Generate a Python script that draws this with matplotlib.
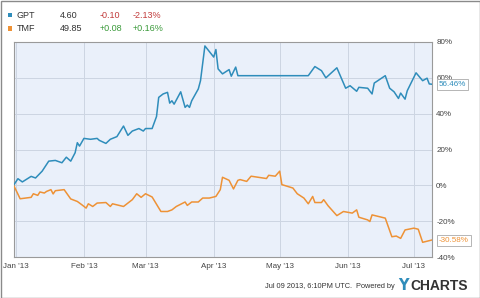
import matplotlib
matplotlib.use("Agg")
import matplotlib.pyplot as plt
import matplotlib.dates as mdates
import pandas as pd
from matplotlib.patches import Rectangle

plt.rcParams['font.family'] = ['Liberation Sans', 'DejaVu Sans']

# ---- data ----
gpt_dates = ["2012-12-31", "2013-01-02", "2013-01-04", "2013-01-08", "2013-01-10", "2013-01-13",
             "2013-01-16", "2013-01-19", "2013-01-22", "2013-01-24", "2013-01-26", "2013-01-28",
             "2013-01-29", "2013-01-30", "2013-02-01", "2013-02-04", "2013-02-07", "2013-02-08",
             "2013-02-11", "2013-02-13", "2013-02-16", "2013-02-19", "2013-02-21", "2013-02-23",
             "2013-02-26", "2013-02-28", "2013-03-01", "2013-03-04", "2013-03-06", "2013-03-07",
             "2013-03-09", "2013-03-11", "2013-03-12", "2013-03-13", "2013-03-14", "2013-03-17",
             "2013-03-19", "2013-03-20", "2013-03-21", "2013-03-22", "2013-03-25", "2013-03-26",
             "2013-03-28", "2013-04-01", "2013-04-02", "2013-04-03", "2013-04-05", "2013-04-08",
             "2013-04-09", "2013-04-11", "2013-04-12", "2013-05-14", "2013-05-17", "2013-05-20",
             "2013-05-22", "2013-05-27", "2013-05-31", "2013-06-02", "2013-06-05", "2013-06-06",
             "2013-06-10", "2013-06-12", "2013-06-13", "2013-06-14", "2013-06-18", "2013-06-20",
             "2013-06-22", "2013-06-24", "2013-06-25", "2013-06-27", "2013-06-28", "2013-07-02",
             "2013-07-05", "2013-07-07", "2013-07-08", "2013-07-09"]
gpt_values = [0, 3.7, 1.9, 5.0, 4.1, 7.9,
              13.5, 13.9, 12.6, 15.7, 13.5, 18.2,
              23.8, 21.9, 26.2, 25.7, 26.2, 25.1,
              23.4, 25.7, 27.2, 33.1, 27.9, 30.3,
              31.7, 30.3, 31.7, 31.7, 38.4, 49.1,
              51.0, 51.9, 45.9, 47.2, 45.3, 52.2,
              43.5, 44.8, 43.5, 47.2, 53.8, 58.4,
              77.8, 71.6, 75.8, 65.0, 62.2, 64.6,
              60.9, 66.0, 61.2, 61.2, 66.3, 64.0,
              60.0, 65.6, 54.2, 55.6, 52.5, 54.7,
              54.2, 51.0, 57.1, 57.9, 61.2, 54.2,
              52.2, 48.5, 51.5, 48.1, 52.8, 62.8,
              58.4, 59.8, 56.6, 56.46]

tmf_dates = ["2012-12-31", "2013-01-01", "2013-01-03", "2013-01-08", "2013-01-09", "2013-01-11",
             "2013-01-12", "2013-01-14", "2013-01-15", "2013-01-17", "2013-01-18", "2013-01-19",
             "2013-01-23", "2013-01-26", "2013-01-29", "2013-01-31", "2013-02-02", "2013-02-03",
             "2013-02-05", "2013-02-07", "2013-02-11", "2013-02-13", "2013-02-14", "2013-02-19",
             "2013-02-23", "2013-02-25", "2013-02-27", "2013-03-01", "2013-03-04", "2013-03-08",
             "2013-03-11", "2013-03-13", "2013-03-15", "2013-03-19", "2013-03-20", "2013-03-22",
             "2013-03-25", "2013-03-27", "2013-03-30", "2013-04-02", "2013-04-04", "2013-04-05",
             "2013-04-08", "2013-04-10", "2013-04-12", "2013-04-13", "2013-04-16", "2013-04-18",
             "2013-04-25", "2013-04-26", "2013-04-29", "2013-05-01", "2013-05-02", "2013-05-07",
             "2013-05-09", "2013-05-12", "2013-05-14", "2013-05-16", "2013-05-17", "2013-05-20",
             "2013-05-21", "2013-05-23", "2013-05-27", "2013-05-30", "2013-06-03", "2013-06-05",
             "2013-06-06", "2013-06-10", "2013-06-11", "2013-06-12", "2013-06-15", "2013-06-18",
             "2013-06-21", "2013-06-23", "2013-06-25", "2013-06-27", "2013-07-01", "2013-07-03",
             "2013-07-05", "2013-07-09"]
tmf_values = [0, -2.4, -7.5, -6.7, -4.7, -5.6,
              -3.7, -4.3, -3.4, -2.4, -4.8, -3.0,
              -2.4, -7.6, -9.0, -10.8, -12.7, -10.3,
              -11.8, -9.9, -9.6, -11.8, -10.3, -11.8,
              -8.0, -4.7, -6.7, -4.7, -6.5, -14.6,
              -14.6, -13.7, -11.8, -9.3, -11.2, -9.3,
              -9.3, -7.1, -7.1, -6.2, -2.4, 4.5,
              2.8, -2.0, 2.8, 3.2, 2.2, 5.1,
              3.8, 5.6, 5.1, 7.9, 0.4, -1.5,
              -4.7, -7.1, -10.3, -6.2, -9.6, -9.6,
              -8.0, -11.4, -16.9, -14.6, -15.5, -13.7,
              -17.8, -19.3, -20.2, -16.5, -17.4, -18.3,
              -28.7, -28.3, -29.6, -24.9, -23.9, -24.5,
              -31.8, -30.58]

yticks = [-40, -20, 0, 20, 40, 60, 80]
month_ticks = ["2013-01-01", "2013-02-01", "2013-03-01", "2013-04-01", "2013-05-01", "2013-06-01", "2013-07-01"]
month_labels = ["Jan '13", "Feb '13", "Mar '13", "Apr '13", "May '13", "Jun '13", "Jul '13"]

legend_rows = [("GPT", "4.60", "-0.10", "-2.13%"), ("TMF", "49.85", "+0.08", "+0.16%")]

BLUE = "#2f8dbb"
ORANGE = "#ee9236"
RED = "#c23b3b"
GREEN = "#3a9a3a"

fig = plt.figure(figsize=(4.8, 2.98), dpi=100)
ax = fig.add_axes([14 / 480, 1 - 257 / 298, (432 - 14) / 480, (257 - 42) / 298])
ax.set_facecolor("#eaf0fa")

gd = pd.to_datetime(gpt_dates)
td = pd.to_datetime(tmf_dates)
ax.plot(gd, gpt_values, color=BLUE, lw=1.1, zorder=3)
ax.plot(td, tmf_values, color=ORANGE, lw=1.1, zorder=3)

ax.set_xlim(pd.Timestamp("2012-12-31 05:00"), pd.Timestamp("2013-07-09 06:00"))
ax.set_ylim(-40, 80)

ax.set_xticks(pd.to_datetime(month_ticks))
ax.set_xticklabels(month_labels)
ax.set_yticks(yticks)
ax.set_yticklabels([f"{v}%" for v in yticks])
ax.yaxis.tick_right()
ax.tick_params(axis="both", length=0, labelsize=5.8, colors="#444444")
ax.tick_params(axis="y", pad=3)
ax.tick_params(axis="x", pad=4)
ax.grid(True, color="#cdd5e2", lw=0.7)
ax.set_axisbelow(True)
for s in ax.spines.values():
    s.set_color("#9a9a9a")
    s.set_linewidth(0.8)

# end labels
for val, col in [(gpt_values[-1], BLUE), (tmf_values[-1], ORANGE)]:
    ax.annotate(f"{val:.2f}%", xy=(1.0, val), xycoords=("axes fraction", "data"),
                xytext=(5, 0), textcoords="offset points", ha="left", va="center",
                fontsize=5.8, color=col, zorder=5,
                bbox=dict(boxstyle="square,pad=0.25", fc="white", ec="#aaaaaa", lw=0.6),
                annotation_clip=False)

# legend header
for i, (name, price, chg, pct) in enumerate(legend_rows):
    y = 1 - (15 + 13.3 * i) / 298
    col = BLUE if i == 0 else ORANGE
    fig.patches.append(Rectangle((7.5 / 480, y - 2.2 / 298), 4.5 / 480, 4.5 / 298,
                                 transform=fig.transFigure, fc=col, ec="none"))
    ccol = RED if chg.startswith("-") else GREEN
    fig.text(16.5 / 480, y, name, fontsize=6.5, color="#333333", va="center")
    fig.text(60 / 480, y, price, fontsize=6.5, color="#333333", va="center")
    fig.text(100 / 480, y, chg, fontsize=6.5, color=ccol, va="center")
    fig.text(133 / 480, y, pct, fontsize=6.5, color=ccol, va="center")

# footer
fig.text(395 / 480, 1 - 287 / 298, "Jul 09 2013, 6:10PM UTC.  Powered by", fontsize=5.3,
         color="#333333", ha="right", va="center")
fig.text(398 / 480, 1 - 286 / 298, "Y", fontsize=10.5, fontweight="bold", color="#2f8dbb",
         ha="left", va="center", family="DejaVu Sans")
fig.text(410 / 480, 1 - 286 / 298, "CHARTS", fontsize=10, fontweight="bold", color="#333333",
         ha="left", va="center", family="Liberation Sans")

# outer border
fig.patches.append(Rectangle((0.5 / 480, 0.5 / 298), 479 / 480, 297 / 298, transform=fig.transFigure,
                             fc="none", ec="#8a8a8a", lw=1.0))

fig.savefig("out.png", dpi=100, facecolor="white")
